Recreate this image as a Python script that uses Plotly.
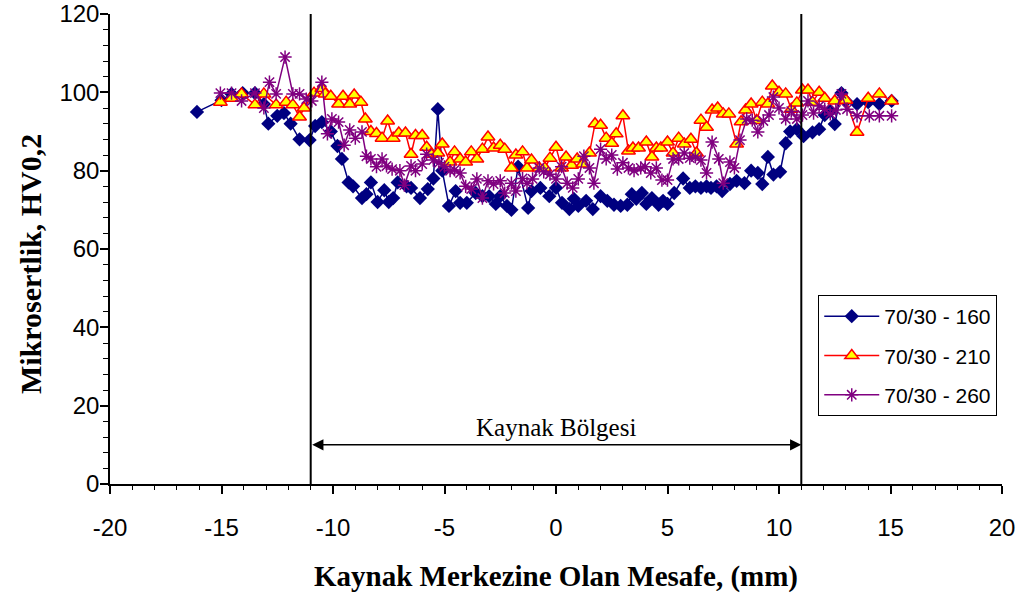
import plotly.graph_objects as go

# ---- data ----
x_160 = [-16.1, -15.0, -14.55, -14.05, -13.5, -13.1, -12.9, -12.5, -12.2, -11.9, -11.5, -11.05, -10.8, -10.5,
         -10.1, -9.8, -9.6, -9.3, -9.1, -8.7, -8.5, -8.3, -8.0, -7.7, -7.5, -7.3, -7.1, -6.7, -6.5, -6.1,
         -5.75, -5.5, -5.3, -5.1, -4.8, -4.5, -4.3, -4.0, -3.6, -3.3, -3.0, -2.7, -2.5, -2.2, -2.0, -1.7,
         -1.25, -1.1, -0.7, -0.3, 0.0, 0.27, 0.6, 0.8, 1.0, 1.35, 1.65, 2.0, 2.3, 2.6, 2.9, 3.2, 3.4, 3.6,
         3.85, 4.05, 4.3, 4.6, 4.8, 5.0, 5.3, 5.7, 6.0, 6.25, 6.5, 6.75, 6.95, 7.2, 7.45, 7.8, 8.1, 8.45,
         8.75, 9.05, 9.25, 9.5, 9.75, 10.05, 10.3, 10.5, 10.8, 11.1, 11.5, 11.8, 12.05, 12.3, 12.5, 12.8,
         13.0, 13.5, 14.0, 14.5, 15.05]
y_160 = [95, 98, 99.6, 99.8, 99.8, 97, 92, 94, 94.7, 92, 88, 87.8, 91.4, 92.4,
         90, 86.3, 83, 77, 76, 73, 74, 77, 72, 75, 72, 73, 77, 76, 75.6, 73,
         75.3, 78, 95.7, 80, 71, 74.8, 71.8, 71.8, 74.3, 73.5, 73.5, 71.5, 73.5, 71, 70, 81,
         70.5, 74.8, 75.6, 73.5, 75.6, 71.8, 70.2, 72.8, 71, 72.3, 70.2, 73.5, 72.3, 71.3, 71, 71.3, 74, 72.8,
         74.3, 71.5, 73, 71.3, 72.3, 71.5, 74.3, 78, 75.6, 76, 75.6, 76, 75.6, 76, 74.8, 76.6, 77.4, 76.8,
         80, 79.4, 76.6, 83.5, 79, 79.7, 87, 90, 90.6, 88.8, 89.8, 90.6, 94.2, 95.2, 91.9, 99.8,
         97.8, 97, 97.5, 97, 97.8]

x_210 = [-15.05, -14.55, -14.1, -13.5, -13.1, -12.55, -12.1, -11.8, -11.5, -11.3, -10.85, -10.5, -10.35, -10.1,
         -9.75, -9.55, -9.25, -9.05, -8.75, -8.55, -8.3, -8.05, -7.8, -7.55, -7.3, -7.05, -6.75, -6.5, -6.3,
         -6.0, -5.8, -5.6, -5.3, -5.1, -4.75, -4.55, -4.3, -4.05, -3.8, -3.55, -3.3, -3.05, -2.8, -2.5, -2.3,
         -2.0, -1.8, -1.5, -1.3, -1.1, -0.75, -0.5, -0.27, 0.0, 0.25, 0.45, 0.7, 0.95, 1.2, 1.5, 1.75, 2.0,
         2.25, 2.5, 2.7, 3.0, 3.25, 3.45, 3.7, 4.05, 4.3, 4.5, 4.7, 5.0, 5.25, 5.5, 5.75, 6.05, 6.3, 6.5,
         6.75, 7.0, 7.25, 7.5, 7.75, 8.1, 8.3, 8.5, 8.75, 9.0, 9.25, 9.5, 9.7, 10.0, 10.3, 10.55, 10.8,
         11.05, 11.3, 11.5, 11.8, 12.05, 12.5, 13.0, 13.5, 14.0, 14.5, 15.05]
y_210 = [97.5, 98.5, 99.6, 96.8, 99.6, 96.8, 97.5, 96.8, 93.7, 96, 99.8, 101, 99.6, 99,
         97, 99, 97, 99.3, 97.5, 93.2, 90, 89.5, 88.3, 92.7, 88.3, 89.6, 89.6, 84.2, 89,
         89, 86, 84.2, 84.5, 86.8, 82.2, 84.8, 83, 82.2, 84.8, 83, 85.5, 88.6, 85.8, 86.5, 85.5,
         80.7, 84, 84.8, 80.7, 82.7, 80.7, 80.7, 83.2, 86, 80.7, 83.5, 81.4, 83, 81.7, 84.5, 92, 91.6,
         88.3, 87, 89.4, 94, 85, 85.8, 85.8, 87.3, 83.5, 85.8, 85.8, 87.3, 84.5, 88.3, 86.8, 88, 84.5, 92.9,
         91.1, 95.5, 96, 94.5, 94.5, 86.8, 92.5, 95.5, 97, 92.8, 97.5, 97, 101.6, 100, 99.6, 95.7, 97.3,
         100.6, 100.6, 97.5, 100, 98.5, 97.8, 98, 89.8, 98.5, 99.6, 97.8]

x_260 = [-15.05, -14.55, -14.1, -13.5, -13.1, -12.85, -12.55, -12.15, -11.8, -11.5, -11.2, -10.95, -10.5, -10.25,
         -10.05, -9.75, -9.5, -9.25, -9.0, -8.7, -8.5, -8.3, -8.05, -7.8, -7.6, -7.35, -7.0, -6.8, -6.5, -6.3,
         -6.0, -5.8, -5.5, -5.25, -5.0, -4.75, -4.55, -4.3, -4.05, -3.8, -3.55, -3.3, -3.05, -2.8, -2.5, -2.3,
         -2.0, -1.8, -1.5, -1.3, -1.05, -0.75, -0.55, -0.27, 0.0, 0.25, 0.5, 0.75, 1.0, 1.25, 1.5, 1.7, 2.0,
         2.25, 2.5, 2.75, 3.0, 3.25, 3.5, 3.8, 4.0, 4.25, 4.5, 4.75, 5.0, 5.25, 5.5, 5.75, 6.0, 6.25, 6.5,
         6.75, 7.0, 7.3, 7.5, 7.8, 8.0, 8.25, 8.55, 8.8, 9.05, 9.3, 9.55, 9.75, 10.0, 10.3, 10.55, 10.8,
         11.05, 11.3, 11.55, 11.8, 12.05, 12.3, 12.55, 12.8, 13.05, 13.5, 14.05, 14.5, 15.05]
y_260 = [99.8, 99.8, 97.8, 99.8, 96, 102.6, 99.6, 109, 99.6, 99.6, 98.3, 97.8, 102.6, 89.4,
         93.2, 92.4, 86.5, 90.4, 88.3, 89.9, 83.7, 83, 81, 83, 81.2, 80.4, 80, 76.3, 81.2, 80,
         81.7, 84.2, 82.7, 82, 81, 80, 80.2, 79.4, 76, 75.3, 77.9, 73, 77.4, 76.6, 77.4, 74.3,
         76.8, 74.8, 78, 76.8, 77.9, 80.7, 79.7, 79.1, 77.9, 81, 76.8, 75.6, 77.9, 83.7, 80.7, 76.8, 85.5,
         83, 84, 80.4, 82, 80.7, 80, 80.7, 81, 79.4, 80.7, 77.6, 77.6, 83, 83, 84.5, 83.2, 83.5, 82.7,
         79.4, 87.3, 83, 76.8, 82.2, 80.7, 87.8, 93.2, 92.9, 89.9, 92.7, 94.2, 98.8, 96, 93.2, 95.2, 93.2,
         94.2, 97.8, 94.7, 96.5, 95.7, 94.5, 95.5, 99.6, 95.7, 94, 94, 94, 94]

x_tick_vals = [-20, -15, -10, -5, 0, 5, 10, 15, 20]
x_tick_labels = ["-20", "-15", "-10", "-5", "0", "5", "10", "15", "20"]
y_tick_vals = [0, 20, 40, 60, 80, 100, 120]
y_tick_labels = ["0", "20", "40", "60", "80", "100", "120"]

weld_left = -11
weld_right = 11
arrow_y = 10
label_y = 14.5
series_names = ["70/30 - 160", "70/30 - 210", "70/30 - 260"]
x_title = "Kaynak Merkezine Olan Mesafe, (mm)"
y_title = "Mikrosertlik, HV0,2"

fig = go.Figure()
fig.add_trace(go.Scatter(x=x_160, y=y_160, mode="lines+markers", name=series_names[0], legendgroup="a",
                         line=dict(color="#000080", width=1.5),
                         marker=dict(symbol="diamond", size=11, color="#000080")))
fig.add_trace(go.Scatter(x=x_210, y=y_210, mode="lines+markers", name=series_names[1], legendgroup="b",
                         line=dict(color="#FF0000", width=1.5),
                         marker=dict(symbol="triangle-up", size=12, color="#FFFF00",
                                     line=dict(color="#FF0000", width=1.5))))
fig.add_trace(go.Scatter(x=x_260, y=y_260, mode="lines+markers", name=series_names[2], legendgroup="c",
                         line=dict(color="#800080", width=1.5),
                         marker=dict(symbol="asterisk-open", size=11,
                                     line=dict(color="#800080", width=1.5))))

for xv in (weld_left, weld_right):
    fig.add_shape(type="line", xref="x", yref="y", x0=xv, x1=xv, y0=0, y1=120,
                  line=dict(color="black", width=2))

fig.add_annotation(x=weld_right, y=arrow_y, ax=weld_left, ay=arrow_y, axref="x", ayref="y",
                   xref="x", yref="y", text="", showarrow=True, arrowhead=2, arrowside="end+start",
                   arrowsize=1.5, arrowwidth=1.5, arrowcolor="black", standoff=0, startstandoff=0)
fig.add_annotation(x=0, y=label_y, xref="x", yref="y", text="Kaynak Bölgesi", showarrow=False,
                   font=dict(family="Liberation Serif", size=25, color="black"))
fig.add_annotation(x=-0.0897, y=0.468, xref="paper", yref="paper", text="<b>" + y_title + "</b>",
                   textangle=-90, showarrow=False, xanchor="center", yanchor="middle",
                   font=dict(family="Liberation Serif", size=30, color="black"))

fig.update_layout(
    width=1029, height=602,
    margin=dict(l=110, r=27, t=14, b=118),
    paper_bgcolor="white", plot_bgcolor="white",
    font=dict(family="Liberation Sans", color="black"),
    legend=dict(x=0.794, y=0.402, xanchor="left", yanchor="top",
                bgcolor="white", bordercolor="black", borderwidth=1,
                font=dict(family="Liberation Sans", size=21, color="black"),
                itemwidth=55, tracegroupgap=9),
    xaxis=dict(range=[-20, 20], tickmode="array", tickvals=x_tick_vals, ticktext=x_tick_labels,
               showgrid=False, zeroline=False, automargin=False,
               showline=True, linecolor="black", linewidth=1.5,
               ticks="outside", ticklen=8, tickwidth=1.5, tickcolor="black",
               ticklabelstandoff=13,
               tickfont=dict(size=24, family="Liberation Sans"),
               minor=dict(dtick=1, tick0=0, ticks="outside", ticklen=4, tickcolor="black", tickwidth=1),
               title=dict(text="<b>" + x_title + "</b>",
                          font=dict(family="Liberation Serif", size=29), standoff=26)),
    yaxis=dict(range=[0, 120], tickmode="array", tickvals=y_tick_vals, ticktext=y_tick_labels,
               showgrid=False, zeroline=False, automargin=False,
               showline=True, linecolor="black", linewidth=1.5,
               ticks="outside", ticklen=8, tickwidth=1.5, tickcolor="black",
               ticklabelstandoff=-4,
               tickfont=dict(size=24, family="Liberation Sans"),
               minor=dict(dtick=4, tick0=0, ticks="outside", ticklen=5, tickcolor="black", tickwidth=1)),
)

fig.write_html("out.html", config={"displayModeBar": False},
               post_script="document.body.style.margin='0px';")
